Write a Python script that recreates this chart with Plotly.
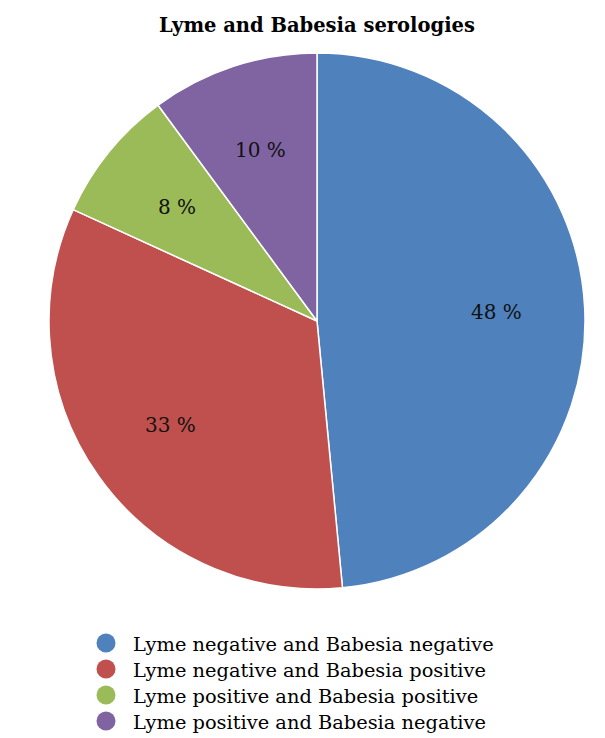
import math
import plotly.graph_objects as go

# Serology outcome groups and their shares (%)
categories = [
    "Lyme negative and Babesia negative",
    "Lyme negative and Babesia positive",
    "Lyme positive and Babesia positive",
    "Lyme positive and Babesia negative",
]
shares = [48, 33, 8, 10]
colors = ["#4F81BD", "#C0504D", "#9BBB59", "#8064A2"]

W, H = 605, 738
FONT = "DejaVu Serif"

# Pie placement in pixels (center and radius)
cx, cy, R = 317, 321, 268
dom_x = [(cx - R) / W, (cx + R) / W]
dom_y = [(H - cy - R) / H, (H - cy + R) / H]

fig = go.Figure()
fig.add_trace(go.Pie(
    labels=categories,
    values=shares,
    sort=False,
    direction="clockwise",
    rotation=0,
    marker=dict(colors=colors, line=dict(color="white", width=1.5)),
    textinfo="none",
    hoverinfo="label+percent",
    showlegend=False,
    domain=dict(x=dom_x, y=dom_y),
))

# Percentage labels placed along each slice's bisector
total = sum(shares)
label_r = 0.672 * R
start = 0.0
annotations = []
for v in shares:
    span = v / total * 360.0
    mid = math.radians(start + span / 2)
    px = cx + label_r * math.sin(mid)
    py = cy - label_r * math.cos(mid)
    annotations.append(dict(
        x=px / W, y=(H - py) / H, xref="paper", yref="paper",
        text=f"{v} %", showarrow=False,
        font=dict(family=FONT, size=20, color="#111111"),
        xanchor="center", yanchor="middle",
    ))
    start += span

# Legend below the pie: round swatches with labels
shapes = []
leg_x, leg_y, leg_step = 106, 643, 26
for i, (name, col) in enumerate(zip(categories, colors)):
    yc = leg_y + i * leg_step
    shapes.append(dict(
        type="circle", xref="paper", yref="paper",
        xsizemode="pixel", ysizemode="pixel",
        xanchor=leg_x / W, yanchor=(H - yc) / H,
        x0=-9.5, x1=9.5, y0=-9.5, y1=9.5,
        fillcolor=col, line=dict(width=0),
    ))
    annotations.append(dict(
        x=131 / W, y=(H - yc - 1.5) / H, xref="paper", yref="paper",
        text=name, showarrow=False,
        font=dict(family=FONT, size=19.4, color="#000000"),
        xanchor="left", yanchor="middle",
    ))

fig.update_layout(
    width=W, height=H,
    margin=dict(l=0, r=0, t=0, b=0),
    paper_bgcolor="white", plot_bgcolor="white",
    showlegend=False,
    title=dict(
        text="<b>Lyme and Babesia serologies</b>",
        x=317 / W, xanchor="center", y=(H - 25) / H, yanchor="middle",
        font=dict(family=FONT, size=19.5, color="#000000"),
    ),
    annotations=annotations,
    shapes=shapes,
)

fig.write_html("out.html")
